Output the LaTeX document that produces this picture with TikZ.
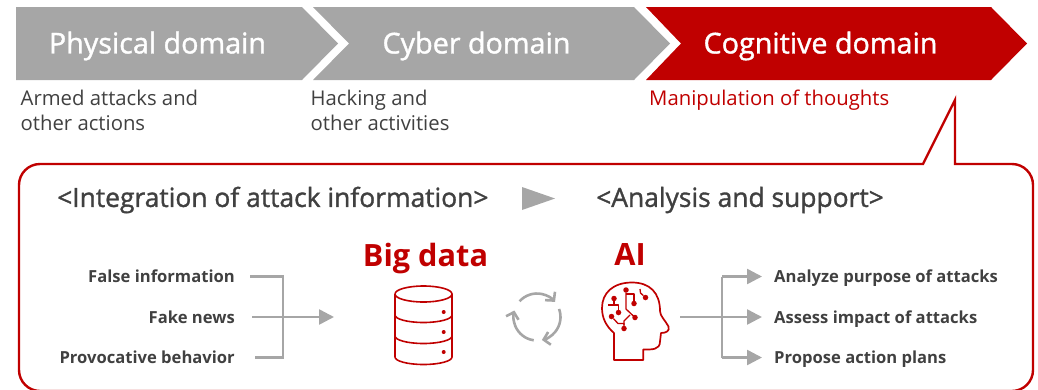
\documentclass[tikz,border=0pt]{standalone}
\usepackage{fontspec}
\setmainfont{Open Sans}
\usetikzlibrary{arrows.meta, positioning}
\definecolor{dred}{HTML}{C00000}
\definecolor{dgray}{HTML}{A6A6A6}
\definecolor{dtext}{HTML}{404040}
\newfontfamily\medfont[FakeBold = 1.3]{Open Sans}
\tikzstyle{chevron} = [fill = dgray]
\tikzstyle{title} = [text = white, font = \medfont\fontsize{28.7}{32}\selectfont, inner sep = 0pt]
\tikzstyle{note} = [text = dtext, font = \fontsize{20.3}{25}\selectfont, align = left, anchor = north west, inner sep = 0pt]
\tikzstyle{head} = [text = dtext, font = \medfont\fontsize{26.4}{30}\selectfont, anchor = west, inner sep = 0pt]
\tikzstyle{item} = [text = dtext, font = \fontsize{16.6}{20}\selectfont\bfseries, inner sep = 0pt, text height = 12pt, text depth = 4pt]
\tikzstyle{big} = [text = dred, font = \fontsize{30.7}{34}\selectfont\bfseries, inner sep = 0pt]
\tikzstyle{line} = [draw = dgray, line width = 2.5pt]
\tikzstyle{arrow} = [line, -{Triangle[length = 15pt, width = 15pt]}]
\tikzstyle{icon} = [draw = dred, line width = 1.6pt, line join = round]
\tikzstyle{dot} = [circle, fill = dred, inner sep = 0pt, minimum size = 6pt]

\begin{document}
\begin{tikzpicture}[x = 1pt, y = -1pt]
	\useasboundingbox (0, 0) rectangle (1038, 389);

	% the three domains
	\path [chevron] (16, 7) -- (302, 7) -- (338, 43.5) -- (302, 80) -- (16, 80) -- cycle;
	\path [chevron] (313, 7) -- (634, 7) -- (670, 43.5) -- (634, 80) -- (313, 80) -- (349, 43.5) -- cycle;
	\path [chevron, fill = dred] (646, 7) -- (991, 7) -- (1027, 43.5) -- (991, 80) -- (646, 80) -- (681, 43.5) -- cycle;
	\node [title] (physical) at (157.5, 46) {Physical domain};
	\node [title] (cyber) at (476.5, 46) {Cyber domain};
	\node [title] (cognitive) at (820.5, 46) {Cognitive domain};

	\node [note] (armed) at (20.5, 90) {Armed attacks and\\other actions};
	\node [note] (hacking) at (310.5, 90) {Hacking and\\other activities};
	\node [note, text = dred] (thoughts) at (649, 90) {Manipulation of thoughts};

	% callout
	\path [draw = dred, line width = 2.4pt, line join = miter, rounded corners = 21pt]
		(1033, 250) -- (1033, 391) -- (19, 391) -- (19, 164) -- (100, 164) [sharp corners] -- (923, 164) -- (955, 100) -- (955, 164) -- (980, 164)
		[rounded corners = 21pt] -- (1033, 164) -- (1033, 250);

	\node [head] (integration) at (57, 200) {<Integration of attack information>};
	\node [head] (analysis) at (596, 200) {<Analysis and support>};
	\path [fill = dgray] (522, 187) -- (555, 198.5) -- (522, 210) -- cycle;

	\node [big] (bigdata) at (425.5, 259) {Big data};
	\node [big] (ai) at (630, 254) {AI};

	% left side
	\node [item, anchor = east] (false) at (235, 278) {False information};
	\node [item, anchor = east] (fake) at (235, 319) {Fake news};
	\node [item, anchor = east] (provoke) at (235, 359) {Provocative behavior};
	\coordinate (ltop) at (283, 276.5);
	\coordinate (lbot) at (283, 357.5);
	\coordinate (lend) at (334, 317);
	\path [line, shorten < = 15pt, shorten > = 20pt, line join = miter] (false.east |- ltop) -- (ltop) -- (lbot) -- (provoke.east |- lbot);
	\path [arrow, shorten < = 17pt] (fake.east |- lend) -- (lend);

	% database
	\path [icon] (395, 294) arc (180:-180:28.5 and 8);
	\path [icon] (395, 294) -- (395, 357) arc (180:0:28.5 and 7.5) -- (452, 294);
	\path [icon] (395, 315) arc (180:0:28.5 and 7.5);
	\path [icon] (395, 336) arc (180:0:28.5 and 7.5);
	\node [dot, minimum size = 4pt] (d1) at (443.7, 312) {};
	\node [dot, minimum size = 4pt] (d2) at (443.7, 332) {};
	\node [dot, minimum size = 4pt] (d3) at (443.7, 352) {};

	% cycle
	\foreach \a in {-138, -20, 98} {
		\draw [dgray, line width = 2.6pt, -{Straight Barb[length = 6pt, width = 13pt]}]
			(537, 317) ++(\a:23.5) arc (\a:\a + 98:23.5);
	}

	% head
	\path [icon, line width = 1.7pt] (614, 360) -- (643.3, 360) -- (643.3, 349.5)
		.. controls (652, 349.5) and (660, 350) .. (660, 341.5)
		-- (661, 333) .. controls (666, 333) and (670, 331) .. (668.5, 326.5)
		.. controls (665, 320) and (660, 316) .. (660, 311)
		.. controls (660, 293) and (650, 282.5) .. (632, 282.5)
		.. controls (613, 282.5) and (602, 293) .. (602, 308)
		.. controls (602, 318) and (606, 326) .. (614, 333) -- cycle;
	\node [dot, minimum size = 5.5pt] (c1) at (626, 290) {};
	\node [dot, minimum size = 5.5pt] (c2) at (634, 303.5) {};
	\node [dot, minimum size = 5.5pt] (c3) at (614, 298.5) {};
	\node [dot, minimum size = 5.5pt] (c4) at (618.5, 312.5) {};
	\node [dot, minimum size = 5.5pt] (c5) at (635, 317.5) {};
	\node [dot, minimum size = 5.5pt] (c6) at (611.5, 316.5) {};
	\node [dot, minimum size = 5.5pt] (c7) at (624, 328.5) {};
	\node [dot, minimum size = 5.5pt] (c8) at (645.5, 297.5) {};
	\path [icon, line width = 1.3pt] (c1) -- (626, 309) -- (635, 317.5);
	\path [icon, line width = 1.3pt] (626, 294) -- (634, 294) -- (c2);
	\path [icon, line width = 1.3pt] (c3) -- (614, 305) (608, 305) -- (618.5, 305) -- (c4);
	\path [icon, line width = 1.3pt] (c6) -- (618, 323.5) -- (624, 323.5) -- (c7);
	\path [icon, line width = 1.3pt] (c7) -- (624, 321) -- (630, 315);
	\path [icon, line width = 1.3pt] (640, 289) -- (640.5, 293) -- (c8);

	% right side
	\node [item, anchor = west] (purpose) at (774, 278) {Analyze purpose of attacks};
	\node [item, anchor = west] (impact) at (774, 319) {Assess impact of attacks};
	\node [item, anchor = west] (propose) at (774, 359) {Propose action plans};
	\coordinate (rstart) at (680, 317);
	\coordinate (rtop) at (722, 276.5);
	\coordinate (rbot) at (722, 357.5);
	\path [arrow, shorten > = 12pt] (rstart) -- (impact.west |- rstart);
	\path [arrow, shorten > = 12pt] (rtop) -- (purpose.west |- rtop);
	\path [arrow, shorten > = 12pt] (rbot) -- (propose.west |- rbot);
	\path [line] (rtop) -- (rbot);
\end{tikzpicture}
\end{document}
